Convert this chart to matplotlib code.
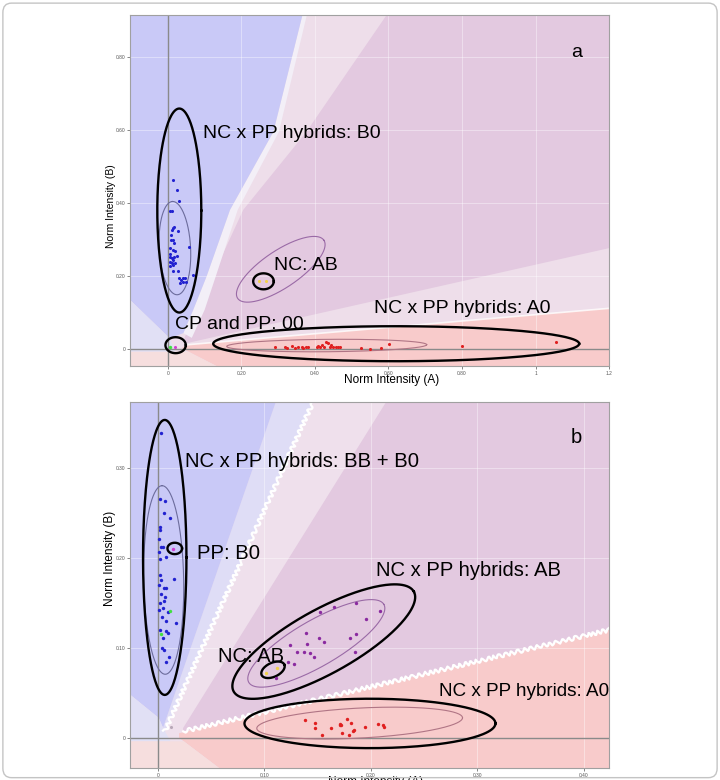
import numpy as np
import matplotlib.pyplot as plt
from matplotlib.patches import FancyBboxPatch

plt.rcParams['font.family'] = ['Liberation Sans', 'DejaVu Sans']

# ---------------- panel a ----------------
a_xlim = (-0.103, 1.2)
a_ylim = (-0.047, 0.915)
a_xticks = [0, 0.2, 0.4, 0.6, 0.8, 1.0, 1.2]
a_xticklabels = ['0', '0.20', '0.40', '0.60', '0.80', '1', '1.2']
a_yticks = [0, 0.2, 0.4, 0.6, 0.8]
a_yticklabels = ['0', '0.20', '0.40', '0.60', '0.80']

# call regions (boundary vertices)
a_blue_x = [-0.103, 0.366, 0.287, 0.169, 0.105, 0.069, 0.042, 0.005, -0.103]
a_blue_y = [0.915, 0.915, 0.595, 0.381, 0.198, 0.107, 0.043, 0.029, 0.134]
a_white_x = [0.366, 0.378, 0.302, 0.19, 0.13, 0.10, 0.065, 0.042, 0.069, 0.105, 0.169, 0.287]
a_white_y = [0.915, 0.915, 0.595, 0.381, 0.198, 0.107, 0.03, 0.043, 0.107, 0.198, 0.381, 0.595]
a_ab_x = [0.595, 1.2, 1.2, 0.051, 0.045, 0.09, 0.205, 0.377]
a_ab_y = [0.915, 0.915, 0.276, 0.0155, 0.03, 0.13, 0.381, 0.595]
a_a0_x = [0.037, 0.051, 1.2, 1.2, 0.132]
a_a0_y = [0.002, 0.011, 0.111, -0.047, -0.047]
a_lav_x = [-0.103, 0.005, 0.02, -0.103]
a_lav_y = [0.134, 0.029, -0.008, -0.008]
a_pinklow_x = [-0.103, 0.056, 0.132, -0.103]
a_pinklow_y = [-0.008, -0.008, -0.047, -0.047]
a_edge_x = [0.051, 1.2]
a_edge_y = [0.011, 0.111]

a_blue_pts_x = [0.015, 0.026, 0.031, 0.005, 0.010, 0.015, 0.010, 0.016, 0.028, 0.008,
                0.015, 0.008, 0.017, 0.005, 0.013, 0.019, 0.005, 0.016, 0.024, 0.005,
                0.010, 0.015, 0.005, 0.012, 0.019, 0.015, 0.007, 0.015, 0.028, 0.058,
                0.067, 0.031, 0.037, 0.033, 0.040, 0.046, 0.042, 0.048]
a_blue_pts_y = [0.463, 0.436, 0.405, 0.379, 0.379, 0.331, 0.326, 0.333, 0.323, 0.312,
                0.299, 0.299, 0.290, 0.276, 0.271, 0.267, 0.259, 0.253, 0.255, 0.253,
                0.248, 0.244, 0.239, 0.235, 0.235, 0.230, 0.226, 0.212, 0.212, 0.280,
                0.203, 0.194, 0.189, 0.180, 0.184, 0.195, 0.195, 0.182]
a_red_x = [0.291, 0.318, 0.323, 0.337, 0.346, 0.355, 0.364, 0.368, 0.377, 0.382,
           0.405, 0.409, 0.414, 0.418, 0.424, 0.430, 0.436, 0.441, 0.445, 0.450,
           0.457, 0.463, 0.468, 0.525, 0.550, 0.580, 0.602, 0.799, 1.055]
a_red_y = [0.006, 0.004, 0.001, 0.008, 0.003, 0.005, 0.006, 0.002, 0.005, 0.005,
           0.005, 0.008, 0.004, 0.010, 0.006, 0.018, 0.016, 0.005, 0.011, 0.004,
           0.005, 0.004, 0.005, 0.002, 0.000, 0.001, 0.014, 0.009, 0.018]
a_yellow_x = [0.249, 0.268]
a_yellow_y = [0.187, 0.187]
a_green_x = [0.007]
a_green_y = [0.006]
a_magenta_x = [0.019]
a_magenta_y = [0.004]

# ellipses: centre x, centre y, semi-axis a (px), semi-axis b (px), angle (deg)
a_ell_black = [(0.031, 0.379, 22, 102, 0),
               (0.26, 0.185, 10.3, 8, 0),
               (0.021, 0.010, 10.2, 8, 0),
               (0.621, 0.014, 183, 17.5, 0)]
a_ell_thin = [(0.019, 0.276, 46.7, 15.7, 93),
              (0.307, 0.218, 52, 18.5, 34),
              (0.432, 0.009, 100, 6.2, 0.5)]
a_thin_colors = ['#6c6c9c', '#9a6aa6', '#b07585']

a_labels = ['NC x PP hybrids: B0', 'NC: AB', 'CP and PP: 00', 'NC x PP hybrids: A0', 'a']
a_label_x = [0.096, 0.289, 0.019, 0.561, 1.098]
a_label_y = [0.595, 0.235, 0.073, 0.116, 0.817]

# ---------------- panel b ----------------
b_xlim = (-0.026, 0.424)
b_ylim = (-0.0337, 0.3737)
b_xticks = [0, 0.1, 0.2, 0.3, 0.4]
b_xticklabels = ['0', '0.10', '0.20', '0.30', '0.40']
b_yticks = [0, 0.1, 0.2, 0.3]
b_yticklabels = ['0', '0.10', '0.20', '0.30']

b_blue_x = [-0.026, 0.111, 0.005, 0.001, -0.026]
b_blue_y = [0.374, 0.374, 0.011, 0.022, 0.048]
b_lav_x = [0.111, 0.146, 0.0066, 0.005]
b_lav_y = [0.374, 0.374, 0.007, 0.011]
b_ab_x = [0.2147, 0.424, 0.424, 0.024, 0.0238]
b_ab_y = [0.374, 0.374, 0.12, 0.007, 0.0107]
b_a0_x = [0.02, 0.424, 0.424, 0.058, 0.02]
b_a0_y = [0.005, 0.12, -0.034, -0.034, 0.0]
b_lowlav_x = [-0.026, 0.001, 0.005, 0.012, -0.026]
b_lowlav_y = [0.048, 0.022, 0.011, -0.004, -0.004]
b_pinklow_x = [-0.026, 0.0245, 0.058, -0.026]
b_pinklow_y = [-0.004, -0.004, -0.034, -0.034]
b_edge1_x = [0.146, 0.0066]
b_edge1_y = [0.374, 0.007]
b_edge2_x = [0.024, 0.424]
b_edge2_y = [0.007, 0.12]

b_blue_pts_x = [0.0034, 0.0019, 0.0066, 0.0056, 0.0113, 0.0019, 0.0025, 0.0013, 0.0034, 0.0050,
                0.0013, 0.0081, 0.0019, 0.0150, 0.0019, 0.0034, 0.0013, 0.0056, 0.0075, 0.0034,
                0.0066, 0.0056, 0.0019, 0.0050, 0.0013, 0.0097, 0.0044, 0.0081, 0.0169, 0.0019,
                0.0075, 0.0097, 0.0050, 0.0044, 0.0056, 0.0106, 0.0075]
b_blue_pts_y = [0.3396, 0.2656, 0.2633, 0.2496, 0.2441, 0.2348, 0.2311, 0.2211, 0.2126, 0.2126,
                0.2070, 0.2015, 0.1985, 0.1763, 0.1811, 0.1756, 0.1700, 0.1663, 0.1663, 0.1600,
                0.1570, 0.1522, 0.1496, 0.1448, 0.1422, 0.1404, 0.1348, 0.1300, 0.1274, 0.1200,
                0.1189, 0.1163, 0.1107, 0.0996, 0.0978, 0.0904, 0.0848]
b_purple_x = [0.1527, 0.1653, 0.1865, 0.2085, 0.1959, 0.1396, 0.1515, 0.1562, 0.1402, 0.1803,
              0.1865, 0.1246, 0.1311, 0.1371, 0.1433, 0.1468, 0.1850, 0.1224, 0.1277, 0.1108]
b_purple_y = [0.1404, 0.1459, 0.1496, 0.1415, 0.1319, 0.1170, 0.1107, 0.1070, 0.1044, 0.1107,
              0.1156, 0.1033, 0.0959, 0.0959, 0.0941, 0.0904, 0.0959, 0.0848, 0.0819, 0.0670]
b_red_x = [0.1387, 0.1474, 0.1474, 0.1546, 0.1631, 0.1715, 0.1725, 0.1734, 0.1778, 0.1793,
           0.1818, 0.1834, 0.1844, 0.1944, 0.2069, 0.2116, 0.2122, 0.1709]
b_red_y = [0.0193, 0.0163, 0.0107, 0.0033, 0.0107, 0.0144, 0.0137, 0.0052, 0.0207, 0.0033,
           0.0163, 0.0070, 0.0089, 0.0115, 0.0152, 0.0144, 0.0119, 0.0152]
b_yellow_x = [0.102, 0.1124]
b_yellow_y = [0.0719, 0.0774]
b_green_x = [0.0113, 0.0028]
b_green_y = [0.1411, 0.1152]
b_magenta_x = [0.0144]
b_magenta_y = [0.21]
b_gray_x = [0.0128]
b_gray_y = [0.0115]

b_ell_black = [(0.0066, 0.2007, 21.7, 137.5, 0),
               (0.016, 0.2107, 7.3, 5.7, 0),
               (0.156, 0.107, 103, 32, 29),
               (0.1083, 0.0756, 12.5, 7, 25),
               (0.1994, 0.0159, 125.5, 24.7, 0)]
b_ell_thin = [(0.0056, 0.1756, 94.3, 20, 91),
              (0.149, 0.105, 78, 23, 30),
              (0.1897, 0.0163, 103, 15, 3)]
b_thin_colors = ['#6c6c9c', '#9a6aa6', '#b07585']

b_labels = ['NC x PP hybrids: BB + B0', 'PP: B0', 'NC x PP hybrids: AB', 'NC: AB',
            'NC x PP hybrids: A0', 'b']
b_label_x = [0.0254, 0.0369, 0.2047, 0.0567, 0.2642, 0.3875]
b_label_y = [0.31, 0.2078, 0.1885, 0.093, 0.0533, 0.3367]
b_label_size = [14.6, 14.6, 14.6, 14.6, 13.6, 14.6]


def ring(ax, cx, cy, a, b, ang, **kw):
    fig = ax.figure
    pos = ax.get_position()
    w = pos.width * fig.get_figwidth() * fig.dpi
    h = pos.height * fig.get_figheight() * fig.dpi
    x0, x1 = ax.get_xlim()
    y0, y1 = ax.get_ylim()
    sx = w / (x1 - x0)
    sy = h / (y1 - y0)
    t = np.linspace(0, 2 * np.pi, 240)
    th = np.radians(ang)
    dx = a * np.cos(t) * np.cos(th) - b * np.sin(t) * np.sin(th)
    dy = a * np.cos(t) * np.sin(th) + b * np.sin(t) * np.cos(th)
    ax.plot(cx + dx / sx, cy + dy / sy, **kw)


def frame(ax, xlim, ylim, xt, xtl, yt, ytl, face):
    ax.set_xlim(*xlim)
    ax.set_ylim(*ylim)
    ax.set_facecolor(face)
    ax.set_xticks(xt)
    ax.set_xticklabels(xtl)
    ax.set_yticks(yt)
    ax.set_yticklabels(ytl)
    ax.tick_params(labelsize=3.5, colors='#555555', length=2, width=0.5, pad=1.5)
    ax.grid(color='white', alpha=0.4, lw=0.7)
    for s in ax.spines.values():
        s.set_color('#a0a0a0')
        s.set_linewidth(0.8)
    ax.axhline(0, color='#8a8a8a', lw=1, zorder=2)
    ax.axvline(0, color='#8a8a8a', lw=1, zorder=2)


fig = plt.figure(figsize=(7.2, 7.8), dpi=100)
fig.patch.set_facecolor('white')
fig.patches.append(FancyBboxPatch((0.004, 0.003), 0.992, 0.993,
                                  boxstyle='round,pad=0,rounding_size=0.012',
                                  transform=fig.transFigure, fill=False,
                                  ec='#c4c4c4', lw=1))

blue = '#c9c9f7'
ab = '#e3c9e0'
a0 = '#f8cbcb'
pinklow = '#f6dede'
lav = '#e1e0f5'

# ---- a ----
ax1 = fig.add_axes([0.1806, 0.5308, 0.6653, 0.45])
frame(ax1, a_xlim, a_ylim, a_xticks, a_xticklabels, a_yticks, a_yticklabels, '#eedeea')
ax1.fill(a_ab_x, a_ab_y, color=ab, lw=0)
ax1.fill(a_a0_x, a_a0_y, color=a0, lw=0)
ax1.fill(a_white_x, a_white_y, color='#f3eff7', lw=0)
ax1.fill(a_blue_x, a_blue_y, color=blue, lw=0)
ax1.fill(a_lav_x, a_lav_y, color=lav, lw=0)
ax1.fill(a_pinklow_x, a_pinklow_y, color=pinklow, lw=0)
ax1.plot(a_edge_x, a_edge_y, color='white', lw=1.2, alpha=0.8, zorder=1.2)

for (cx, cy, a, b, ang) in a_ell_black:
    ring(ax1, cx, cy, a, b, ang, color='black', lw=1.7, zorder=4)
for (cx, cy, a, b, ang), c in zip(a_ell_thin, a_thin_colors):
    ring(ax1, cx, cy, a, b, ang, color=c, lw=0.8, zorder=3)

ax1.scatter(a_blue_pts_x, a_blue_pts_y, s=5, color='#2222d0', lw=0, zorder=5)
ax1.scatter(a_red_x, a_red_y, s=5, color='#e02020', lw=0, zorder=5)
ax1.scatter(a_yellow_x, a_yellow_y, s=5, color='#f2d24a', lw=0, zorder=5)
ax1.scatter(a_green_x, a_green_y, s=6, color='#40e040', lw=0, zorder=5)
ax1.scatter(a_magenta_x, a_magenta_y, s=5, color='#d040d0', lw=0, zorder=5)

for t, x, y in zip(a_labels, a_label_x, a_label_y):
    ax1.text(x, y, t, fontsize=14, va='center_baseline', ha='left', zorder=6)

ax1.set_xlabel('Norm Intensity (A)', fontsize=8.5)
ax1.xaxis.set_label_coords(0.547, -0.024)
ax1.set_ylabel('Norm Intensity (B)', fontsize=7.5)
ax1.yaxis.set_label_coords(-0.029, 0.456)

# ---- b ----
ax2 = fig.add_axes([0.1806, 0.0154, 0.6653, 0.4692])
frame(ax2, b_xlim, b_ylim, b_xticks, b_xticklabels, b_yticks, b_yticklabels, '#efe0ec')
ax2.fill(b_ab_x, b_ab_y, color=ab, lw=0)
ax2.fill(b_a0_x, b_a0_y, color=a0, lw=0)
ax2.fill(b_lav_x, b_lav_y, color='#dfddf6', lw=0)
ax2.fill(b_blue_x, b_blue_y, color=blue, lw=0)
ax2.fill(b_lowlav_x, b_lowlav_y, color=lav, lw=0)
ax2.fill(b_pinklow_x, b_pinklow_y, color=pinklow, lw=0)
for ex, ey in [(b_edge1_x, b_edge1_y), (b_edge2_x, b_edge2_y)]:
    ln, = ax2.plot(ex, ey, color='white', lw=1.6, zorder=1.2)
    ln.set_sketch_params(scale=2, length=7, randomness=2)

for (cx, cy, a, b, ang) in b_ell_black:
    ring(ax2, cx, cy, a, b, ang, color='black', lw=1.7, zorder=4)
for (cx, cy, a, b, ang), c in zip(b_ell_thin, b_thin_colors):
    ring(ax2, cx, cy, a, b, ang, color=c, lw=0.8, zorder=3)

ax2.scatter(b_blue_pts_x, b_blue_pts_y, s=6, color='#2222d0', lw=0, zorder=5)
ax2.scatter(b_purple_x, b_purple_y, s=6, color='#8a2aa0', lw=0, zorder=5)
ax2.scatter(b_red_x, b_red_y, s=6, color='#e02020', lw=0, zorder=5)
ax2.scatter(b_yellow_x, b_yellow_y, s=6, color='#f2d24a', lw=0, zorder=5)
ax2.scatter(b_green_x, b_green_y, s=6, color='#40e040', lw=0, zorder=5)
ax2.scatter(b_magenta_x, b_magenta_y, s=6, color='#d040d0', lw=0, zorder=5)
ax2.scatter(b_gray_x, b_gray_y, s=5, color='#b8a8b8', lw=0, zorder=5)

for t, x, y, fs in zip(b_labels, b_label_x, b_label_y, b_label_size):
    ax2.text(x, y, t, fontsize=fs, va='center_baseline', ha='left', zorder=6)

ax2.set_xlabel('Norm Intensity (A)', fontsize=8.5)
ax2.xaxis.set_label_coords(0.512, -0.022)
ax2.set_ylabel('Norm Intensity (B)', fontsize=8.5)
ax2.yaxis.set_label_coords(-0.029, 0.574)

fig.savefig('out.png', dpi=100)
